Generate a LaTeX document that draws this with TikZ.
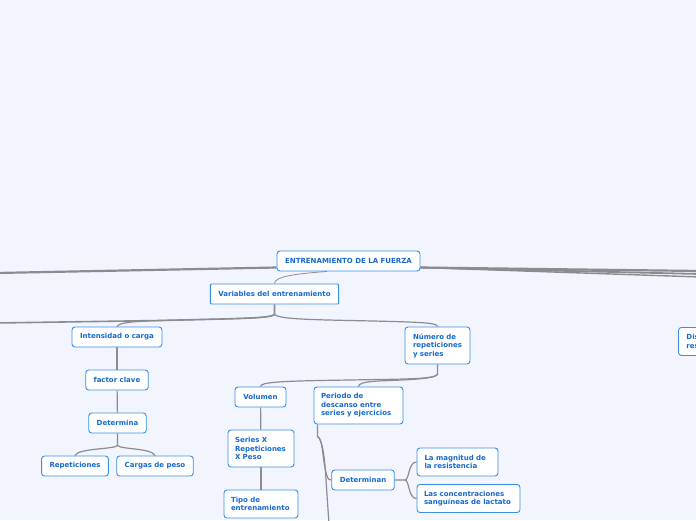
\documentclass[tikz,border=0pt]{standalone}
\usepackage{fontspec}
\setmainfont{DejaVu Sans}
\usetikzlibrary{calc, backgrounds}

\definecolor{sfondo}{HTML}{F2F5FE}
\definecolor{bordo}{HTML}{3A8EE6}
\definecolor{testo}{HTML}{1769CF}
\definecolor{ramo}{HTML}{8C8C90}

\tikzset{
  tema/.style={draw=bordo, fill=white, rounded corners=3pt, line width=0.9pt,
    text=testo, font=\bfseries\fontsize{7}{8.5}\selectfont,
    minimum height=20, inner xsep=8, inner ysep=3},
  multi/.style={tema, align=left, text width=#1},
  linea/.style={draw=ramo, line width=1.2pt},
  grossa/.style={draw=ramo, line width=2.2pt},
}

\begin{document}
\begin{tikzpicture}[x=1pt, y=-1pt]
    \useasboundingbox (0,0) rectangle (696,520);
    \clip (0,0) rectangle (696,520);

    % nodi
    \node[tema, minimum width=143] (fuerza) at (348.5,261) {ENTRENAMIENTO DE LA FUERZA};
    \node[tema, minimum width=127, rounded corners=1pt] (variabili) at (274.5,294) {Variables del entrenamiento};

    \node[tema, minimum width=90] (intensidad) at (117,337) {Intensidad o carga};
    \node[tema, minimum width=62] (factor) at (117,380) {factor clave};
    \node[tema, minimum width=57] (determina) at (117.5,423) {Determina};
    \node[tema, minimum width=66] (repeticiones) at (75,466) {Repeticiones};
    \node[tema, minimum width=76] (cargas) at (155,466) {Cargas de peso};

    \node[multi=49, minimum height=37] (numero) at (437.5,345.5) {Número de\\repeticiones\\y series};
    \node[tema, minimum width=51] (volumen) at (260.5,397) {Volumen};
    \node[multi=75, minimum height=37, inner xsep=7] (periodo) at (358.5,405.5) {Periodo de\\descanso entre\\series y ejercicios};
    \node[multi=52, minimum height=37, inner xsep=7] (series) at (261,448.5) {Series X\\Repeticiones\\X Peso};
    \node[multi=60, minimum height=28, inner xsep=7] (tipo) at (261,504) {Tipo de\\entrenamiento};

    \node[tema, minimum width=62] (determinan) at (363,480) {Determinan};
    \node[multi=66, minimum height=28, inner xsep=7.5] (magnitud) at (457.5,462) {La magnitud de\\la resistencia};
    \node[multi=89, minimum height=28, inner xsep=7] (lactato) at (468.5,498.5) {Las concentraciones\\sanguíneas de lactato};

    \node[multi=60, minimum height=28, anchor=north west] (dis) at (678,327) {Dis\\res};

    % punti fuori dal foglio
    \coordinate (sx1) at (-4,273);
    \coordinate (dx1) at (700,271);
    \coordinate (dx2) at (700,274);
    \coordinate (dx3) at (700,277);
    \coordinate (sx2) at (-4,323);
    \coordinate (giu) at (329,524);

    % rami
    \begin{scope}[on background layer]
    \fill[sfondo] (0,0) rectangle (696,520);

    \draw[grossa] ($(fuerza.west)+(0,6.5)$) -- (sx1);
    \draw[grossa] ($(fuerza.east)+(0,6.5)$) -- (dx1);
    \draw[ramo, line width=1.8pt] ($(fuerza.east)+(0,6.5)$) -- (dx2);
    \draw[ramo, line width=1.4pt] ($(fuerza.east)+(0,6.5)$) -- (dx3);

    \draw[linea, line width=0.8pt] ($(fuerza.south)+(-21.5,0)$) .. controls (292,274) and (274.5,277) .. (variabili.north);

    \coordinate (v0) at ($(variabili.south)+(0,10)$);
    \draw[linea, line width=1.6pt] (variabili.south) -- (v0)
        .. controls ($(v0)+(-4,4)$) and (240,318.5) .. (160,320.5) -- (sx2);
    \draw[linea] (v0) .. controls ($(v0)+(-4,4)$) and (240,318.5) .. (160,320.5)
        .. controls (132,321.5) and (119,322.5) .. (intensidad.north);
    \draw[linea] (v0) .. controls ($(v0)+(4,4)$) and (300,319.5) .. (350,320.5)
        .. controls (420,322) and (437.5,322.5) .. (numero.north);

    \draw[linea] (intensidad) -- (factor);
    \draw[linea] (factor) -- (determina);

    \coordinate (d0) at ($(determina.south)+(0,12)$);
    \draw[linea] (determina.south) -- (d0) .. controls ($(d0)+(-3,4)$) and (78,448) .. (repeticiones.north);
    \draw[linea] (d0) .. controls ($(d0)+(3,4)$) and (152,448) .. (cargas.north);

    \coordinate (n0) at ($(numero.south)+(0,10)$);
    \draw[linea] (numero.south) -- (n0) .. controls ($(n0)+(-3,5)$) and (400,379) .. (350,380)
        .. controls (280,381) and (260.5,382) .. (volumen.north);
    \draw[linea] (n0) .. controls ($(n0)+(-3,5)$) and (400,380) .. (378,381)
        .. controls (362,382) and (358.5,384) .. (periodo.north);

    \draw[linea] (volumen) -- (series);
    \draw[linea] (series) -- (tipo);

    \coordinate (p0) at ($(periodo.south west)+(4,0)$);
    \coordinate (p1) at ($(p0)+(0,12)$);
    \draw[linea] (p0) -- (p1) .. controls ($(p1)+(5,3)$) and (322,452) .. (325,468)
        .. controls (327,478) and (328,480) .. (determinan.west);
    \draw[linea] (p1) .. controls ($(p1)+(5,3)$) and (325,460) .. (326,480) -- (giu);

    \coordinate (t0) at ($(determinan.east)+(10,0)$);
    \draw[linea] (determinan.east) -- (t0) .. controls ($(t0)+(5,0)$) and (408,462) .. (magnitud.west);
    \draw[linea] (t0) .. controls ($(t0)+(5,0)$) and (408,498.5) .. (lactato.west);
    \end{scope}
\end{tikzpicture}
\end{document}
